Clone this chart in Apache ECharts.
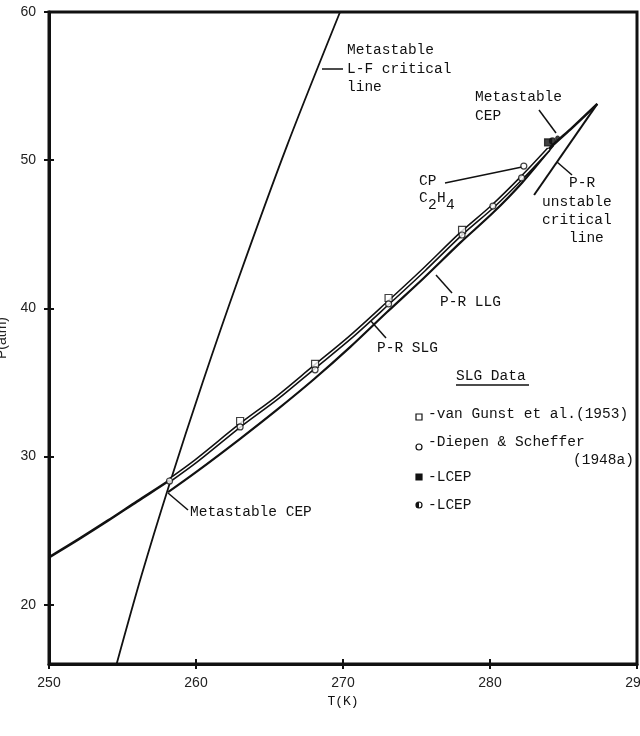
<!DOCTYPE html>
<html>
<head>
<meta charset="utf-8">
<title>P-T diagram</title>
<script src="https://cdn.jsdelivr.net/npm/echarts@6/dist/echarts.min.js"></script>
<style>
  html, body { margin: 0; padding: 0; background: #fff; }
  #main { width: 640px; height: 736px; }
</style>
</head>
<body>
<div id="main"></div>
<script>
// axis ticks
var xTicks = [250, 260, 270, 280, 290];
var yTicks = [20, 30, 40, 50, 60];

// metastable L-F critical line
var lfT = [254.6, 256.3, 258.15, 260.45, 262.85, 266.2, 269.8];
var lfP = [16, 22, 28, 35, 41.9, 51, 60];

// P-R LLG (upper curve, double-drawn between the two CEPs)
var llgT = [250, 252, 254, 256, 258.2, 260, 263, 265.5, 268, 270.5, 273, 275.5, 278, 280.2, 282.2, 284.0, 285.6, 287.3];
var llgP = [23.2, 24.41, 25.67, 26.98, 28.4, 29.7, 32.1, 33.95, 36.0, 38.05, 40.3, 42.6, 45.0, 46.9, 48.85, 50.75, 52.2, 53.8];
var dblFrom = 4, dblTo = 15;   // index range drawn as double line

// P-R SLG (lower curve)
var slgT = [258.1, 260, 263, 265.5, 268, 270.5, 273, 275.5, 278, 280.2, 282.2, 284.3];
var slgP = [27.6, 28.95, 31.2, 33.15, 35.2, 37.4, 39.75, 42.05, 44.45, 46.45, 48.5, 51.0];

// P-R unstable critical line
var unsT = [283.0, 287.3];
var unsP = [47.65, 53.8];

// SLG data
var gunstT = [263.0, 268.1, 273.1, 278.1];
var gunstP = [32.4, 36.25, 40.7, 45.3];
var diepT = [258.2, 263.0, 268.1, 273.1, 278.1, 280.2, 282.15];
var diepP = [28.35, 32.0, 35.85, 40.3, 44.95, 46.9, 48.8];
var cpT = [282.3], cpP = [49.6];
var lcepSqT = [283.95], lcepSqP = [51.2];
var lcepCiT = [284.25], lcepCiP = [51.3];
var mcepT = [284.6], mcepP = [51.5];

function zip(a, b) { return a.map(function (v, i) { return [v, b[i]]; }); }

var MONO = '"Liberation Mono", "DejaVu Sans Mono", monospace';
var SANS = '"Liberation Sans", Arial, sans-serif';

function txt(x, y, s, size) {
    return { type: 'text', x: x, y: y, style: { text: s, font: (size || 14.5) + 'px ' + MONO, fill: '#111', verticalAlign: 'middle', align: 'left' } };
}
function seg(x1, y1, x2, y2, w) {
    return { type: 'line', shape: { x1: x1, y1: y1, x2: x2, y2: y2 }, style: { stroke: '#111', lineWidth: w || 1.5 } };
}

var lineSer = function (data, w) {
    return { type: 'line', data: data, showSymbol: false, smooth: 0.3, xAxisIndex: 0, yAxisIndex: 0,
        lineStyle: { color: '#111', width: w }, z: 3, silent: true, clip: true };
};
var dotSer = function (data, sym, size, fill, bw) {
    return { type: 'scatter', data: data, symbol: sym, symbolSize: size, z: 6, silent: true,
        itemStyle: { color: fill, borderColor: '#111', borderWidth: bw } };
};

var chart = echarts.init(document.getElementById('main'));
var grid = { left: 49, right: 3, top: 12, bottom: 72, outerBoundsMode: 'none', containLabel: false,
    show: true, borderColor: '#111', borderWidth: 3 };

var option = {
    animation: false,
    backgroundColor: '#fff',
    grid: grid,
    xAxis: [{
        type: 'value', min: 250, max: 290, interval: 10, position: 'bottom',
        name: 'T(K)', nameLocation: 'middle', nameGap: 29,
        nameTextStyle: { fontFamily: MONO, fontSize: 13, color: '#111' },
        axisLine: { show: true, lineStyle: { color: '#111', width: 3 } },
        axisTick: { show: true, length: 5, customValues: xTicks, lineStyle: { color: '#111', width: 2 } },
        axisLabel: { customValues: xTicks, margin: 12, fontFamily: SANS, fontSize: 14, color: '#222' },
        splitLine: { show: false }
    }, {
        type: 'value', min: 250, max: 290, interval: 10, position: 'bottom',
        axisLine: { show: false },
        axisTick: { show: true, inside: true, length: 5, customValues: xTicks, lineStyle: { color: '#111', width: 2 } },
        axisLabel: { show: false }, splitLine: { show: false }
    }],
    yAxis: [{
        type: 'value', min: 16, max: 60, position: 'left',
        name: 'P(atm)', nameLocation: 'middle', nameGap: 39, nameRotate: 90,
        nameTextStyle: { fontFamily: SANS, fontSize: 14, color: '#222' },
        axisLine: { show: true, lineStyle: { color: '#111', width: 3 } },
        axisTick: { show: true, length: 5, customValues: yTicks, lineStyle: { color: '#111', width: 2 } },
        axisLabel: { customValues: yTicks, margin: 13, fontFamily: SANS, fontSize: 14, color: '#222' },
        splitLine: { show: false }
    }, {
        type: 'value', min: 16, max: 60, position: 'left',
        axisLine: { show: false },
        axisTick: { show: true, inside: true, length: 5, customValues: yTicks, lineStyle: { color: '#111', width: 2 } },
        axisLabel: { show: false }, splitLine: { show: false }
    }],
    series: [
        lineSer(zip(lfT, lfP), 1.8),
        lineSer(zip(llgT, llgP), 2.6),
        // double line: thick black with white core
        (function () {
            var s = lineSer(zip(llgT, llgP).slice(dblFrom, dblTo + 1), 4.6);
            s.z = 4; return s;
        })(),
        (function () {
            var s = lineSer(zip(llgT, llgP).slice(dblFrom, dblTo + 1), 1.5);
            s.lineStyle.color = '#fff'; s.z = 5; return s;
        })(),
        lineSer(zip(slgT, slgP), 2.2),
        lineSer(zip(unsT, unsP), 2.0),
        dotSer(zip(gunstT, gunstP), 'rect', 7, '#fff', 1.2),
        dotSer(zip(diepT, diepP), 'circle', 6, '#fff', 1.2),
        dotSer(zip(cpT, cpP), 'circle', 6, '#fff', 1.2),
        dotSer(zip(lcepSqT, lcepSqP), 'rect', 7, '#111', 1.2),
        dotSer(zip(lcepCiT, lcepCiP), 'circle', 6, '#111', 1.2),
        dotSer(zip(mcepT, mcepP), 'circle', 4, '#111', 1)
    ],
    graphic: [
        // L-F critical line note
        txt(347, 50, 'Metastable'), txt(347, 69, 'L-F critical'), txt(347, 87, 'line'),
        seg(322, 69, 343, 69),
        // metastable CEP (top)
        txt(475, 97, 'Metastable'), txt(475, 116, 'CEP'),
        seg(539, 110, 556, 133),
        // CP C2H4
        txt(419, 181, 'CP'),
        txt(419, 198, 'C'), txt(428, 205, '2'), txt(437, 198, 'H'), txt(446, 205, '4'),
        seg(445, 183, 522, 167),
        // unstable critical line
        txt(569, 183, 'P-R'), txt(542, 202, 'unstable'), txt(542, 220, 'critical'), txt(569, 238, 'line'),
        seg(557, 162, 572, 175),
        // LLG / SLG labels
        txt(440, 302, 'P-R LLG'), seg(436, 275, 452, 293),
        txt(377, 348, 'P-R SLG'), seg(370, 320, 386, 338),
        // metastable CEP (bottom)
        txt(190, 512, 'Metastable CEP'), seg(168, 493, 188, 510),
        // SLG data key
        txt(456, 376, 'SLG Data'), seg(456, 385, 529, 385, 1.3),
        { type: 'rect', shape: { x: 416, y: 414, width: 6, height: 6 }, style: { fill: '#fff', stroke: '#111', lineWidth: 1.2 } },
        txt(428, 414, '-van Gunst et al.(1953)'),
        { type: 'circle', shape: { cx: 419, cy: 447, r: 3 }, style: { fill: '#fff', stroke: '#111', lineWidth: 1.2 } },
        txt(428, 442, '-Diepen & Scheffer'), txt(573, 460, '(1948a)'),
        { type: 'rect', shape: { x: 416, y: 474, width: 6, height: 6 }, style: { fill: '#111', stroke: '#111', lineWidth: 1.2 } },
        txt(428, 477, '-LCEP'),
        { type: 'circle', shape: { cx: 419, cy: 505, r: 3 }, style: { fill: '#fff', stroke: '#111', lineWidth: 1.2 } },
        { type: 'sector', shape: { cx: 419, cy: 505, r: 3, startAngle: Math.PI / 2, endAngle: Math.PI * 1.5 }, style: { fill: '#111' } },
        txt(428, 505, '-LCEP')
    ]
};
chart.setOption(option);
</script>
</body>
</html>
